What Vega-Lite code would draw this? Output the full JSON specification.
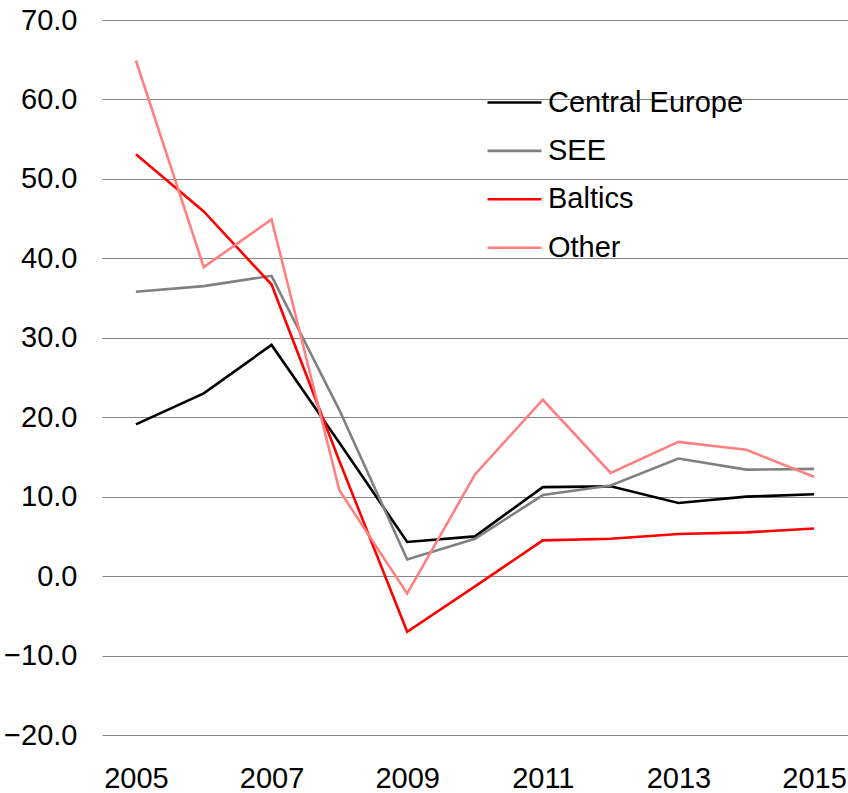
{
  "$schema": "https://vega.github.io/schema/vega-lite/v6.json",
  "width": 746,
  "height": 715,
  "autosize": {"type": "none"},
  "padding": {"left": 102, "top": 20, "right": 0, "bottom": 58},
  "background": "white",
  "config": {
    "view": {"stroke": null},
    "font": "Liberation Sans"
  },
  "data": {
    "values": [
      {"series": "Central Europe", "year": 2005, "value": 19.1},
      {"series": "Central Europe", "year": 2006, "value": 23.0},
      {"series": "Central Europe", "year": 2007, "value": 29.1},
      {"series": "Central Europe", "year": 2008, "value": 16.8},
      {"series": "Central Europe", "year": 2009, "value": 4.3},
      {"series": "Central Europe", "year": 2010, "value": 5.0},
      {"series": "Central Europe", "year": 2011, "value": 11.2},
      {"series": "Central Europe", "year": 2012, "value": 11.3},
      {"series": "Central Europe", "year": 2013, "value": 9.2},
      {"series": "Central Europe", "year": 2014, "value": 10.0},
      {"series": "Central Europe", "year": 2015, "value": 10.3},
      {"series": "SEE", "year": 2005, "value": 35.8},
      {"series": "SEE", "year": 2006, "value": 36.5},
      {"series": "SEE", "year": 2007, "value": 37.8},
      {"series": "SEE", "year": 2008, "value": 20.9},
      {"series": "SEE", "year": 2009, "value": 2.1},
      {"series": "SEE", "year": 2010, "value": 4.7},
      {"series": "SEE", "year": 2011, "value": 10.2},
      {"series": "SEE", "year": 2012, "value": 11.4},
      {"series": "SEE", "year": 2013, "value": 14.8},
      {"series": "SEE", "year": 2014, "value": 13.4},
      {"series": "SEE", "year": 2015, "value": 13.5},
      {"series": "Baltics", "year": 2005, "value": 53.1},
      {"series": "Baltics", "year": 2006, "value": 45.9},
      {"series": "Baltics", "year": 2007, "value": 36.7},
      {"series": "Baltics", "year": 2008, "value": 14.5},
      {"series": "Baltics", "year": 2009, "value": -7.0},
      {"series": "Baltics", "year": 2010, "value": -1.3},
      {"series": "Baltics", "year": 2011, "value": 4.5},
      {"series": "Baltics", "year": 2012, "value": 4.7},
      {"series": "Baltics", "year": 2013, "value": 5.3},
      {"series": "Baltics", "year": 2014, "value": 5.5},
      {"series": "Baltics", "year": 2015, "value": 6.0},
      {"series": "Other", "year": 2005, "value": 64.9},
      {"series": "Other", "year": 2006, "value": 38.9},
      {"series": "Other", "year": 2007, "value": 44.9},
      {"series": "Other", "year": 2008, "value": 10.8},
      {"series": "Other", "year": 2009, "value": -2.2},
      {"series": "Other", "year": 2010, "value": 12.8},
      {"series": "Other", "year": 2011, "value": 22.2},
      {"series": "Other", "year": 2012, "value": 13.0},
      {"series": "Other", "year": 2013, "value": 16.9},
      {"series": "Other", "year": 2014, "value": 15.9},
      {"series": "Other", "year": 2015, "value": 12.5}
    ]
  },
  "mark": {"type": "line"},
  "encoding": {
    "x": {
      "field": "year",
      "type": "ordinal",
      "scale": {"type": "point", "padding": 0.5},
      "axis": {
        "title": null,
        "values": [2005, 2007, 2009, 2011, 2013, 2015],
        "labelAngle": 0,
        "domain": false,
        "ticks": false,
        "grid": false,
        "labelFontSize": 29,
        "labelColor": "black",
        "labelPadding": 29,
        "labelFont": "Liberation Sans"
      }
    },
    "y": {
      "field": "value",
      "type": "quantitative",
      "scale": {"domain": [-20, 70], "nice": false, "zero": false},
      "axis": {
        "title": null,
        "values": [-20, -10, 0, 10, 20, 30, 40, 50, 60, 70],
        "format": ".1f",
        "domain": false,
        "ticks": false,
        "grid": true,
        "gridColor": "#868686",
        "gridWidth": 1.2,
        "gridOpacity": 1,
        "labelFontSize": 29,
        "labelColor": "black",
        "labelPadding": 25,
        "labelFont": "Liberation Sans"
      }
    },
    "strokeWidth": {
      "field": "series",
      "type": "nominal",
      "scale": {
        "domain": ["Central Europe", "SEE", "Baltics", "Other"],
        "range": [2.6, 2.6, 2.6, 3.3]
      },
      "legend": null
    },
    "color": {
      "field": "series",
      "type": "nominal",
      "sort": ["Central Europe", "SEE", "Baltics", "Other"],
      "scale": {
        "domain": ["Central Europe", "SEE", "Baltics", "Other"],
        "range": ["#000000", "#808080", "#ff0000", "#ff8080"]
      },
      "legend": {
        "title": null,
        "orient": "none",
        "legendX": 390,
        "legendY": 60,
        "padding": 0,
        "symbolType": "M-1.3,0H1.3",
        "symbolSize": 1722,
        "symbolStrokeWidth": 3,
        "labelOffset": 11,
        "rowPadding": 10.4,
        "labelFontSize": 29,
        "labelColor": "black",
        "labelFont": "Liberation Sans",
        "labelLimit": 400
      }
    }
  }
}
